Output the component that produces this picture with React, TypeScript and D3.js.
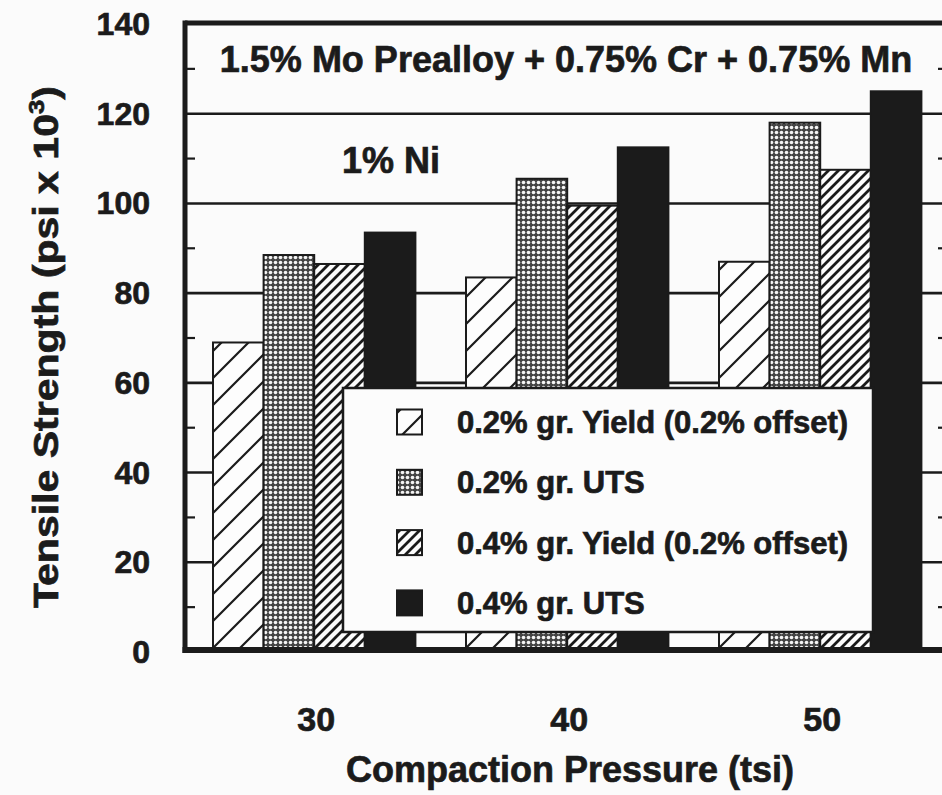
import React from "react";
import * as d3 from "d3";

const categories = ["30", "40", "50"];
const seriesNames = [
  "0.2% gr. Yield (0.2% offset)",
  "0.2% gr. UTS",
  "0.4% gr. Yield (0.2% offset)",
  "0.4% gr. UTS",
];
const yield02 = [69, 83.5, 87];
const uts02 = [88.5, 105.5, 118];
const yield04 = [86.5, 99.5, 107.5];
const uts04 = [93.5, 112.5, 125];
const yTickValues = [0, 20, 40, 60, 80, 100, 120, 140];
const gridValues = [20, 40, 60, 80, 100, 120];
const minorTickValues = [10, 30, 50, 70, 90, 110, 130];

const titleText = "1.5% Mo Prealloy + 0.75% Cr + 0.75% Mn";
const subTitleText = "1% Ni";
const xTitleText = "Compaction Pressure (tsi)";

const FONT = "'Liberation Sans', Arial, Helvetica, sans-serif";
const INK = "#1b1b1b";
const TS = { stroke: INK, strokeWidth: 0.7 } as const;

export default function App() {
  const W = 942;
  const H = 795;
  const plotLeft = 185;
  const plotRight = 947;

  const y = d3.scaleLinear().domain([0, 140]).range([652, 24]);
  const x0 = d3
    .scaleBand<string>()
    .domain(categories)
    .range([187.7, 946.7])
    .paddingInner(0.2)
    .paddingOuter(0.1);
  const seriesKeys = ["s0", "s1", "s2", "s3"];
  const x1 = d3.scaleBand<string>().domain(seriesKeys).range([0, x0.bandwidth()]);

  const seriesValues = [yield02, uts02, yield04, uts04];
  const fills = ["url(#hatchWide)", "url(#dots)", "url(#hatchDense)", INK];

  const y0 = y(0);
  const yTop = y(140);

  return (
    <svg
      width={W}
      height={H}
      style={{ position: "absolute", left: 0, top: 0, background: "#fbfbfb" }}
      fontFamily={FONT}
    >
      <defs>
        <pattern id="hatchWide" patternUnits="userSpaceOnUse" width={27} height={27}>
          <rect width={27} height={27} fill="#fdfdfd" />
          <path
            d="M0,27 L27,0 M-7,7 L7,-7 M20,34 L34,20"
            stroke={INK}
            strokeWidth={2.2}
          />
        </pattern>
        <pattern id="hatchDense" patternUnits="userSpaceOnUse" width={10} height={10}>
          <rect width={10} height={10} fill="#fdfdfd" />
          <path d="M0,10 L10,0 M-3,3 L3,-3 M7,13 L13,7" stroke={INK} strokeWidth={2.8} />
        </pattern>
        <pattern id="dots" patternUnits="userSpaceOnUse" width={5} height={5}>
          <rect width={5} height={5} fill="#444" />
          <circle cx={2.5} cy={2.5} r={1.8} fill="#f4f4f4" />
        </pattern>
      </defs>

      <rect x={0} y={0} width={W} height={H} fill="#fbfbfb" />

      {/* gridlines */}
      {gridValues.map((v) => (
        <line
          key={"g" + v}
          x1={plotLeft}
          x2={plotRight}
          y1={y(v)}
          y2={y(v)}
          stroke={INK}
          strokeWidth={2.6}
        />
      ))}

      {/* minor ticks left and right */}
      {minorTickValues.map((v) => (
        <g key={"m" + v}>
          <line x1={plotLeft} x2={plotLeft + 10} y1={y(v)} y2={y(v)} stroke={INK} strokeWidth={2.2} />
          <line x1={plotRight - 9} x2={plotRight} y1={y(v)} y2={y(v)} stroke={INK} strokeWidth={2.2} />
        </g>
      ))}

      {/* bars */}
      {categories.map((c, ci) => (
        <g key={c} transform={`translate(${x0(c)},0)`}>
          {seriesKeys.map((k, si) => {
            const v = seriesValues[si][ci];
            return (
              <rect
                key={k}
                x={x1(k)}
                y={y(v)}
                width={x1.bandwidth()}
                height={y0 - y(v)}
                fill={fills[si]}
                stroke={INK}
                strokeWidth={2}
              />
            );
          })}
        </g>
      ))}

      {/* legend */}
      <g>
        <rect x={343} y={388} width={530} height={244} fill="#fcfcfc" stroke={INK} strokeWidth={2.5} />
        {seriesNames.map((name, i) => {
          const cy = 422 + i * 60.3;
          return (
            <g key={name}>
              <rect
                x={397}
                y={cy - 12.5}
                width={25}
                height={25}
                fill={fills[i]}
                stroke={INK}
                strokeWidth={2}
              />
              <text x={457} y={cy + 11} fontSize={31} fontWeight="bold" fill={INK} {...TS}>
                {name}
              </text>
            </g>
          );
        })}
      </g>

      {/* frame */}
      <line x1={plotLeft} x2={plotRight} y1={yTop - 1} y2={yTop - 1} stroke={INK} strokeWidth={5} />
      <line x1={plotLeft} x2={plotLeft} y1={yTop - 3.5} y2={y0 + 1} stroke={INK} strokeWidth={5} />
      <line x1={plotRight} x2={plotRight} y1={yTop - 3.5} y2={y0 + 1} stroke={INK} strokeWidth={5} />
      <line x1={plotLeft - 2.5} x2={plotRight} y1={y0 - 2} y2={y0 - 2} stroke={INK} strokeWidth={6} />

      {/* titles inside plot */}
      <text x={566} y={72} textAnchor="middle" fontSize={36} fontWeight="bold" fill={INK} {...TS}>
        {titleText}
      </text>
      <text x={391} y={173} textAnchor="middle" fontSize={36} fontWeight="bold" fill={INK} {...TS}>
        {subTitleText}
      </text>

      {/* y tick labels */}
      {yTickValues.map((v) => (
        <text
          key={"yt" + v}
          x={150}
          y={y(v) + 11}
          textAnchor="end"
          fontSize={32}
          fontWeight="bold"
          fill={INK}
          {...TS}
        >
          {v}
        </text>
      ))}

      {/* x tick labels */}
      {categories.map((c) => (
        <text
          key={"xt" + c}
          x={(x0(c) as number) + x0.bandwidth() / 2 + 2}
          y={731}
          textAnchor="middle"
          fontSize={34}
          fontWeight="bold"
          fill={INK}
          {...TS}
        >
          {c}
        </text>
      ))}

      {/* x axis title */}
      <text x={570} y={782} textAnchor="middle" fontSize={36} fontWeight="bold" fill={INK} {...TS}>
        {xTitleText}
      </text>

      {/* y axis title */}
      <text
        transform="translate(58,347) rotate(-90)"
        textAnchor="middle"
        fontSize={35}
        fontWeight="bold"
        fill={INK}
        {...TS}
        textLength={522}
        lengthAdjust="spacingAndGlyphs"
      >
        Tensile Strength (psi x 10
        <tspan dy={-14} fontSize={22}>3</tspan>
        <tspan dy={14}>)</tspan>
      </text>
    </svg>
  );
}
